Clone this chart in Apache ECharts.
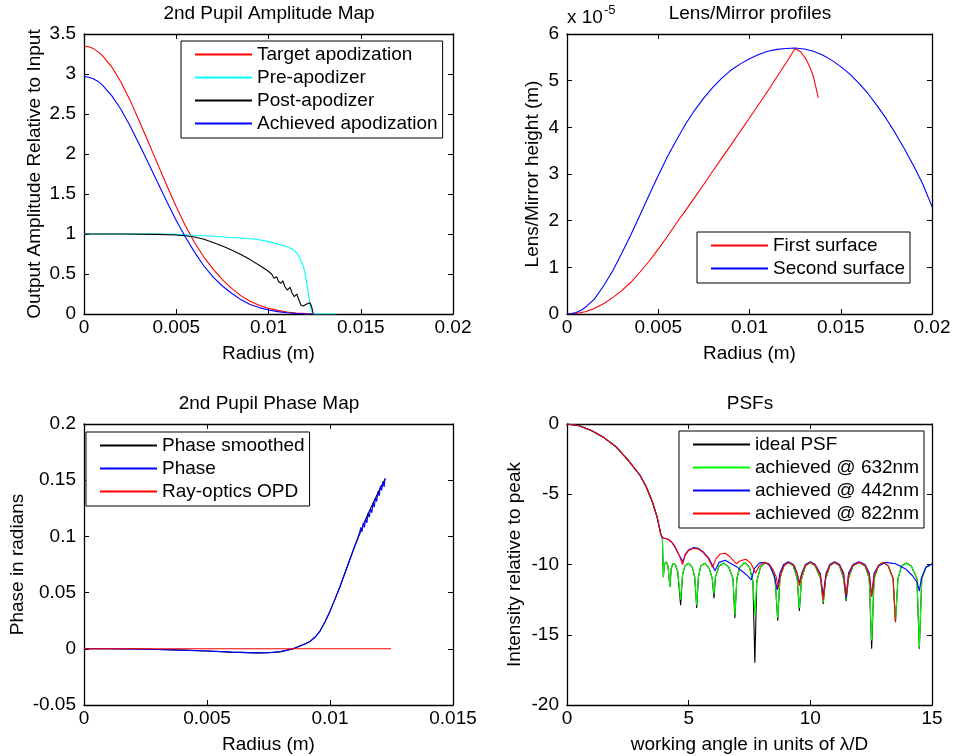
<!DOCTYPE html>
<html><head><meta charset="utf-8">
<script src="https://cdn.jsdelivr.net/npm/echarts@6/dist/echarts.min.js"></script>
<style>html,body{margin:0;padding:0;background:#fff}#c{width:954px;height:756px}</style>
</head><body><div id="c"></div>
<script>
// ---------- Panel 1: 2nd Pupil Amplitude Map ----------
const targetApod = [[0,3.35],[0.00025,3.34],[0.0005,3.32],[0.00075,3.28],[0.001,3.23],[0.0015,3.09],[0.002,2.90],[0.0025,2.67],[0.003,2.41],[0.0035,2.14],[0.004,1.87],[0.0045,1.60],[0.005,1.34],[0.0055,1.10],[0.006,0.89],[0.0065,0.71],[0.007,0.56],[0.0075,0.43],[0.008,0.32],[0.0085,0.23],[0.009,0.16],[0.0095,0.11],[0.01,0.07],[0.0105,0.045],[0.011,0.025],[0.0115,0.012],[0.012,0.005],[0.01243,0]];
const preApod = [[0,1],[0.002,1],[0.004,1],[0.005,0.995],[0.006,0.985],[0.007,0.972],[0.008,0.957],[0.009,0.94],[0.0095,0.928],[0.01,0.905],[0.0105,0.875],[0.011,0.84],[0.0113,0.81],[0.0115,0.77],[0.0117,0.70],[0.0119,0.59],[0.012,0.48],[0.0121,0.35],[0.0122,0.2],[0.01228,0.08],[0.0124,0],[0.0137,0]];
const postApod = [[0,1],[0.002,1],[0.004,0.995],[0.005,0.988],[0.0055,0.978],[0.006,0.963],[0.0065,0.935],[0.007,0.895],[0.0075,0.85],[0.008,0.8],[0.0085,0.745],[0.009,0.68],[0.0095,0.61],[0.0099,0.55],[0.01017,0.5],[0.0103,0.446],[0.01044,0.466],[0.01055,0.404],[0.01068,0.384],[0.01077,0.416],[0.01089,0.341],[0.01102,0.30],[0.01117,0.334],[0.01127,0.266],[0.0114,0.216],[0.01153,0.25],[0.01165,0.175],[0.01176,0.11],[0.01189,0.10],[0.01207,0.125],[0.01225,0.14],[0.01234,0.09],[0.01243,0]];
const achievedApod = [[0,2.97],[0.00025,2.96],[0.0005,2.94],[0.00075,2.91],[0.001,2.86],[0.0015,2.73],[0.002,2.56],[0.0025,2.35],[0.003,2.12],[0.0035,1.88],[0.004,1.64],[0.0045,1.40],[0.005,1.17],[0.0055,0.96],[0.006,0.77],[0.0065,0.60],[0.007,0.46],[0.0075,0.35],[0.008,0.26],[0.0085,0.18],[0.009,0.12],[0.0095,0.08],[0.01,0.05],[0.0105,0.03],[0.011,0.016],[0.0115,0.007],[0.012,0.002],[0.01243,0]];

// ---------- Panel 2: Lens/Mirror profiles (units of 1e-5 m) ----------
const firstSurface = [[0,0],[0.0005,0.01],[0.001,0.05],[0.0015,0.12],[0.002,0.22],[0.0025,0.35],[0.003,0.5],[0.0035,0.68],[0.004,0.9],[0.0045,1.13],[0.005,1.39],[0.0055,1.66],[0.006,1.95],[0.0065,2.22],[0.007,2.5],[0.0075,2.78],[0.008,3.07],[0.0085,3.35],[0.009,3.63],[0.0095,3.92],[0.01,4.2],[0.0105,4.49],[0.011,4.78],[0.0115,5.08],[0.012,5.38],[0.0125,5.69],[0.0128,5.62],[0.0131,5.46],[0.0133,5.3],[0.0135,5.09],[0.01377,4.63]];
const secondSurface = [[0,0],[0.00025,0.008],[0.0005,0.03],[0.00075,0.075],[0.001,0.14],[0.0015,0.32],[0.002,0.6],[0.0025,0.92],[0.003,1.3],[0.0035,1.7],[0.004,2.12],[0.0045,2.55],[0.005,2.97],[0.0055,3.37],[0.006,3.73],[0.0065,4.07],[0.007,4.37],[0.0075,4.63],[0.008,4.86],[0.0085,5.06],[0.009,5.23],[0.0095,5.36],[0.01,5.47],[0.0105,5.56],[0.011,5.63],[0.0115,5.67],[0.012,5.69],[0.0125,5.70],[0.013,5.68],[0.0135,5.63],[0.014,5.55],[0.0145,5.44],[0.015,5.3],[0.0155,5.14],[0.016,4.94],[0.0165,4.72],[0.017,4.46],[0.0175,4.18],[0.018,3.87],[0.0185,3.53],[0.019,3.17],[0.0195,2.78],[0.02,2.3]];
const heightTicks = ['0','1','2','3','4','5','6'];

// ---------- Panel 3: 2nd Pupil Phase Map ----------
const phaseSmoothed = [[0,0],[0.001,0],[0.002,-0.0002],[0.003,-0.0006],[0.004,-0.0012],[0.005,-0.002],[0.006,-0.003],[0.007,-0.0036],[0.0075,-0.0035],[0.008,-0.0025],[0.0085,0],[0.009,0.0045],[0.0092,0.0068],[0.0094,0.0105],[0.0096,0.016],[0.0098,0.024],[0.01,0.0335],[0.0102,0.044],[0.0104,0.055],[0.0106,0.067],[0.0108,0.079],[0.011,0.091],[0.0115,0.118],[0.012,0.141],[0.01224,0.151]];
const phaseRaw = [[0,0],[0.001,0],[0.002,-0.0002],[0.003,-0.0006],[0.004,-0.0012],[0.005,-0.002],[0.006,-0.003],[0.007,-0.0036],[0.0075,-0.0035],[0.008,-0.0025],[0.0085,0],[0.009,0.0045],[0.0092,0.0068],[0.0094,0.0105],[0.0096,0.016],[0.0098,0.024],[0.01,0.0335],[0.0102,0.044],[0.0104,0.055],[0.0106,0.067],[0.0108,0.079],[0.011,0.091],[0.0112,0.103],[0.01125,0.108],[0.0113,0.104],[0.01135,0.112],[0.0114,0.108],[0.01145,0.116],[0.0115,0.112],[0.01155,0.121],[0.0116,0.117],[0.01165,0.125],[0.0117,0.121],[0.01175,0.13],[0.0118,0.126],[0.01185,0.135],[0.0119,0.131],[0.01195,0.14],[0.012,0.136],[0.01205,0.145],[0.0121,0.141],[0.01215,0.149],[0.0122,0.144],[0.01224,0.152]];
const rayOPD = [[0,0],[0.01248,0]];

// ---------- Panel 4: PSFs ----------
const psfMainLobe = [[0,0],[0.5,-0.12],[1,-0.47],[1.5,-0.95],[2,-1.6],[2.5,-2.55],[3,-3.65],[3.25,-4.45],[3.5,-5.5],[3.7,-6.6],[3.85,-7.8],[3.92,-8.1]];
const idealTail = [[3.96,-10.9],[4.0,-10.0],[4.07,-9.8],[4.15,-10.1],[4.23,-11.6],[4.28,-10.3],[4.35,-9.95],[4.45,-10.0],[4.55,-10.5],[4.67,-12.9],[4.75,-10.7],[4.85,-10.1],[5.0,-9.9],[5.15,-10.2],[5.25,-10.9],[5.33,-13.1],[5.4,-10.9],[5.5,-10.1],[5.67,-9.9],[5.85,-10.3],[5.97,-11.0],[6.04,-12.4],[6.1,-10.9],[6.25,-10.1],[6.45,-9.9],[6.65,-10.2],[6.82,-11.0],[6.9,-13.8],[6.98,-11.0],[7.1,-10.2],[7.3,-9.85],[7.5,-10.2],[7.64,-11.2],[7.72,-17.0],[7.8,-11.2],[7.95,-10.2],[8.15,-9.85],[8.35,-10.1],[8.55,-11.0],[8.66,-14.0],[8.75,-11.0],[8.9,-10.1],[9.1,-9.85],[9.3,-10.1],[9.46,-11.0],[9.55,-13.3],[9.64,-11.0],[9.8,-10.1],[10.0,-9.85],[10.2,-10.1],[10.42,-11.0],[10.53,-12.8],[10.63,-11.0],[10.8,-10.1],[11.0,-9.85],[11.2,-10.1],[11.37,-11.0],[11.47,-12.6],[11.57,-11.0],[11.75,-10.1],[12.0,-9.85],[12.25,-10.1],[12.42,-11.0],[12.52,-16.0],[12.62,-11.0],[12.8,-10.1],[13.0,-9.85],[13.2,-10.1],[13.4,-11.0],[13.5,-14.1],[13.6,-11.0],[13.75,-10.1],[13.95,-9.9],[14.15,-10.1],[14.38,-11.0],[14.48,-16.0],[14.58,-11.0],[14.75,-10.2],[15,-9.96]];
const green632Tail = [[3.96,-10.9],[4.0,-10.0],[4.07,-9.8],[4.15,-10.1],[4.23,-11.6],[4.28,-10.3],[4.35,-9.95],[4.45,-10.0],[4.55,-10.5],[4.67,-12.5],[4.75,-10.7],[4.85,-10.1],[5.0,-9.9],[5.15,-10.2],[5.25,-10.9],[5.33,-12.9],[5.4,-10.9],[5.5,-10.1],[5.67,-9.9],[5.85,-10.3],[5.97,-11.0],[6.04,-12.1],[6.1,-10.9],[6.25,-10.1],[6.45,-9.9],[6.65,-10.2],[6.82,-11.0],[6.9,-13.6],[6.98,-11.0],[7.1,-10.2],[7.3,-9.85],[7.5,-10.2],[7.64,-11.2],[7.72,-13.6],[7.8,-11.2],[7.95,-10.2],[8.15,-9.85],[8.35,-10.1],[8.55,-11.0],[8.66,-13.8],[8.75,-11.0],[8.9,-10.1],[9.1,-9.85],[9.3,-10.1],[9.46,-11.0],[9.55,-13.1],[9.64,-11.0],[9.8,-10.1],[10.0,-9.85],[10.2,-10.1],[10.42,-11.0],[10.53,-12.7],[10.63,-11.0],[10.8,-10.1],[11.0,-9.85],[11.2,-10.1],[11.37,-11.0],[11.47,-12.5],[11.57,-11.0],[11.75,-10.1],[12.0,-9.85],[12.25,-10.1],[12.42,-11.0],[12.52,-15.4],[12.62,-11.0],[12.8,-10.1],[13.0,-9.85],[13.2,-10.1],[13.4,-11.0],[13.5,-14.0],[13.6,-11.0],[13.75,-10.1],[13.95,-9.9],[14.15,-10.1],[14.38,-11.0],[14.48,-15.9],[14.58,-11.0],[14.75,-10.2],[15,-9.96]];
const blue442Tail = [[4.0,-8.15],[4.15,-8.2],[4.3,-8.4],[4.45,-8.8],[4.6,-9.3],[4.77,-9.8],[4.85,-9.3],[5.0,-8.95],[5.2,-8.8],[5.4,-8.85],[5.6,-9.1],[5.85,-9.6],[6.08,-10.45],[6.25,-9.85],[6.5,-9.7],[6.75,-9.95],[7.0,-10.2],[7.25,-10.55],[7.45,-10.85],[7.57,-11.1],[7.7,-10.3],[7.9,-9.9],[8.1,-9.85],[8.3,-10.0],[8.5,-10.7],[8.64,-11.8],[8.75,-10.6],[8.9,-10.0],[9.1,-9.8],[9.3,-10.0],[9.45,-10.6],[9.55,-11.3],[9.65,-10.6],[9.8,-10.0],[10.0,-9.8],[10.2,-10.0],[10.4,-10.6],[10.53,-12.2],[10.65,-10.6],[10.8,-10.0],[11.0,-9.8],[11.2,-10.0],[11.37,-10.6],[11.47,-12.4],[11.57,-10.6],[11.75,-10.0],[12.0,-9.8],[12.25,-10.0],[12.42,-10.6],[12.52,-12.3],[12.62,-10.6],[12.8,-10.1],[13.1,-9.85],[13.5,-9.95],[13.9,-10.3],[14.2,-10.8],[14.4,-11.3],[14.48,-11.9],[14.56,-11.0],[14.75,-10.2],[15,-9.96]];
const red822Tail = [[4.0,-8.15],[4.15,-8.2],[4.3,-8.4],[4.45,-8.75],[4.6,-9.3],[4.75,-10.0],[4.85,-9.35],[5.0,-9.0],[5.2,-8.85],[5.4,-8.9],[5.6,-9.15],[5.8,-9.55],[5.98,-10.2],[6.12,-9.6],[6.3,-9.25],[6.5,-9.2],[6.7,-9.45],[6.85,-9.75],[6.96,-9.95],[7.1,-9.75],[7.35,-9.63],[7.55,-9.9],[7.75,-10.6],[7.9,-10.1],[8.1,-9.85],[8.3,-9.95],[8.48,-10.4],[8.6,-10.9],[8.68,-11.7],[8.78,-10.7],[8.95,-10.0],[9.15,-9.85],[9.35,-10.1],[9.47,-10.7],[9.55,-11.5],[9.65,-10.7],[9.8,-10.05],[10.0,-9.85],[10.2,-10.05],[10.42,-10.8],[10.53,-12.5],[10.64,-10.8],[10.8,-10.05],[11.0,-9.85],[11.2,-10.05],[11.38,-10.8],[11.47,-12.2],[11.57,-10.8],[11.75,-10.05],[12.0,-9.85],[12.25,-10.05],[12.43,-10.8],[12.52,-12.3],[12.62,-10.8],[12.8,-10.05],[13.0,-9.85],[13.2,-10.1],[13.4,-11.0],[13.5,-14.1]];

const idealPsf = psfMainLobe.concat(idealTail);
const psf632 = psfMainLobe.concat(green632Tail);
const psf442 = psfMainLobe.concat(blue442Tail);
const psf822 = psfMainLobe.concat(red822Tail);

// ---------- styling ----------
const FS = 19;
const FF = '"Liberation Sans", Arial, Helvetica, sans-serif';
const BLACK = '#000';

const grids = [
  {left:84, right:501, top:34, bottom:442},
  {left:567, right:22, top:34, bottom:442},
  {left:84, right:501, top:424, bottom:51},
  {left:567, right:22, top:424, bottom:51}
];
const axisCfg = [
  {x:[0,0.02,0.005], y:[0,3.5,0.5], xName:'Radius (m)', yName:'Output Amplitude Relative to Input', yGap:40, xGap:30},
  {x:[0,0.02,0.005], y:[0,6,1], xName:'Radius (m)', yName:'Lens/Mirror height (m)', yGap:25, xGap:30},
  {x:[0,0.015,0.005], y:[-0.05,0.2,0.05], xName:'Radius (m)', yName:'Phase in radians', yGap:57, xGap:30},
  {x:[0,15,5], y:[-20,0,5], xName:'working angle in units of \u03bb/D', yName:'Intensity relative to peak', yGap:43, xGap:30}
];

const xAxes = [], yAxes = [];
axisCfg.forEach((c, g) => {
  const line = {show:true, onZero:false, lineStyle:{color:BLACK, width:1.3}};
  const tick = {show:true, inside:true, length:5, lineStyle:{color:BLACK, width:1}};
  const lbl = {color:BLACK, fontSize:FS, fontFamily:FF};
  xAxes.push({gridIndex:g, type:'value', position:'bottom', min:c.x[0], max:c.x[1], interval:c.x[2],
    axisLine:line, axisTick:tick, splitLine:{show:false}, axisLabel:Object.assign({margin:4}, lbl),
    name:c.xName, nameLocation:'middle', nameGap:c.xGap, nameTextStyle:{color:BLACK, fontSize:FS, fontFamily:FF}});
  xAxes.push({gridIndex:g, type:'value', position:'top', min:c.x[0], max:c.x[1], interval:c.x[2],
    axisLine:line, axisTick:tick, splitLine:{show:false}, axisLabel:{show:false}});
  yAxes.push({gridIndex:g, type:'value', position:'left', min:c.y[0], max:c.y[1], interval:c.y[2],
    axisLine:line, axisTick:tick, splitLine:{show:false}, axisLabel:Object.assign({margin:8}, lbl),
    name:c.yName, nameLocation:'middle', nameGap:c.yGap, nameRotate:90, nameTextStyle:{color:BLACK, fontSize:FS, fontFamily:FF}});
  yAxes.push({gridIndex:g, type:'value', position:'right', min:c.y[0], max:c.y[1], interval:c.y[2],
    axisLine:line, axisTick:tick, splitLine:{show:false}, axisLabel:{show:false}});
});
yAxes[2].axisLabel.formatter = (v) => heightTicks[Math.round(v)];

function ln(name, data, color, g) {
  return {name, type:'line', data, xAxisIndex:2*g, yAxisIndex:2*g, symbol:'none', showSymbol:false,
    lineStyle:{color, width:1.1}, itemStyle:{color}, animation:false, silent:true};
}
const series = [
  ln('Target apodization', targetApod, '#ff0000', 0),
  ln('Pre-apodizer', preApod, '#00ffff', 0),
  ln('Post-apodizer', postApod, '#000000', 0),
  ln('Achieved apodization', achievedApod, '#0000ff', 0),
  ln('First surface', firstSurface, '#ff0000', 1),
  ln('Second surface', secondSurface, '#0000ff', 1),
  ln('Phase smoothed', phaseSmoothed, '#000000', 2),
  ln('Phase', phaseRaw, '#0000ff', 2),
  ln('Ray-optics OPD', rayOPD, '#ff0000', 2),
  ln('ideal PSF', idealPsf, '#000000', 3),
  ln('achieved @ 632nm', psf632, '#00ff00', 3),
  ln('achieved @ 442nm', psf442, '#0000ff', 3),
  ln('achieved @ 822nm', psf822, '#ff0000', 3)
];

function legend(left, top, names) {
  return {orient:'vertical', left, top, data:names, itemWidth:57, itemHeight:1, itemGap:0,
    padding:[2,5,3,13], borderColor:BLACK, borderWidth:1, backgroundColor:'#fff',
    selectedMode:false, textStyle:{color:BLACK, fontSize:FS, fontFamily:FF, lineHeight:23}};
}

const titleFont = FS + 'px ' + FF;
function txt(x, y, text, align, font) {
  return {type:'text', x, y, silent:true,
    style:{text, fill:BLACK, font:font||titleFont, align:align||'center', verticalAlign:'middle',
           textAlign:align||'center', textVerticalAlign:'middle'}};
}

const option = {
  backgroundColor:'#fff',
  animation:false,
  grid: grids.map(g => Object.assign({show:false, containLabel:false}, g)),
  xAxis: xAxes,
  yAxis: yAxes,
  legend: [
    legend(181, 41, ['Target apodization','Pre-apodizer','Post-apodizer','Achieved apodization']),
    legend(697, 232, ['First surface','Second surface']),
    legend(86, 432, ['Phase smoothed','Phase','Ray-optics OPD']),
    legend(679, 431, ['ideal PSF','achieved @ 632nm','achieved @ 442nm','achieved @ 822nm'])
  ],
  graphic: [
    txt(269, 14, '2nd Pupil Amplitude Map'),
    txt(750, 14, 'Lens/Mirror profiles'),
    txt(269, 404, '2nd Pupil Phase Map'),
    txt(750, 404, 'PSFs'),
    txt(567, 18, 'x 10', 'left'),
    txt(604, 10, '-5', 'left', '13px ' + FF)
  ],
  series
};

const chart = echarts.init(document.getElementById('c'), null, {renderer:'canvas'});
chart.setOption(option);
</script></body></html>
